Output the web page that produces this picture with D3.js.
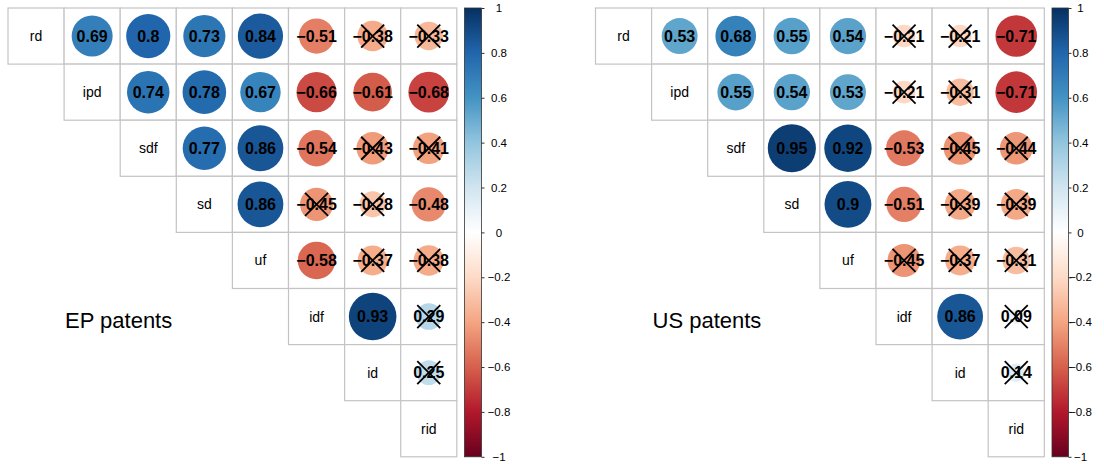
<!DOCTYPE html>
<html>
<head>
<meta charset="utf-8">
<script src="https://cdn.jsdelivr.net/npm/d3@7"></script>
<style>
  body { margin: 0; background: #fff; }
  svg { display: block; font-family: "Liberation Sans", Arial, sans-serif; }
</style>
</head>
<body>
<svg id="chart" width="1104" height="464"></svg>
<script>
// variables (diagonal labels)
var vars = ["rd", "ipd", "sdf", "sd", "uf", "idf", "id", "rid"];

// upper triangle, row by row (row i holds columns i+1 .. 7)
var epCorr = [
    [0.69, 0.8, 0.73, 0.84, -0.51, -0.38, -0.33],
    [0.74, 0.78, 0.67, -0.66, -0.61, -0.68],
    [0.77, 0.86, -0.54, -0.43, -0.41],
    [0.86, -0.45, -0.28, -0.48],
    [-0.58, -0.37, -0.38],
    [0.93, 0.29],
    [0.25]
];
// 1 = not significant (crossed out)
var epCross = [
    [0, 0, 0, 0, 0, 1, 1],
    [0, 0, 0, 0, 0, 0],
    [0, 0, 0, 1, 1],
    [0, 1, 1, 0],
    [0, 1, 1],
    [0, 1],
    [1]
];

var usCorr = [
    [0.53, 0.68, 0.55, 0.54, -0.21, -0.21, -0.71],
    [0.55, 0.54, 0.53, -0.21, -0.31, -0.71],
    [0.95, 0.92, -0.53, -0.45, -0.44],
    [0.9, -0.51, -0.39, -0.39],
    [-0.45, -0.37, -0.31],
    [0.86, 0.09],
    [0.14]
];
var usCross = [
    [0, 0, 0, 0, 1, 1, 0],
    [0, 0, 0, 1, 1, 0],
    [0, 0, 0, 1, 1],
    [0, 0, 1, 1],
    [1, 1, 1],
    [0, 1],
    [1]
];

var legendTicks = [1, 0.8, 0.6, 0.4, 0.2, 0, -0.2, -0.4, -0.6, -0.8, -1];
var palette = ["#67001F", "#B2182B", "#D6604D", "#F4A582", "#FDDBC7", "#FFFFFF",
               "#D1E5F0", "#92C5DE", "#4393C3", "#2166AC", "#053061"];

var svg = d3.select("#chart");

var color = d3.scaleLinear()
    .domain(d3.range(11).map(function (i) { return -1 + i * 0.2; }))
    .range(palette);

function fmt(v) {
    return (v < 0 ? "\u2212" : "") + String(Math.abs(v));
}

var cell = 56.1;

function draw_corr(opts) {
    var n = vars.length;
    var g = svg.append("g");

    var x = d3.scaleBand().domain(vars).range([opts.x0, opts.x0 + n * cell]);
    var y = d3.scaleBand().domain(vars).range([opts.y0, opts.y0 + n * cell]);
    var r = d3.scaleSqrt().domain([0, 1]).range([0, 0.44 * cell]);

    // cells of the upper triangle incl. diagonal
    var cells = [];
    vars.forEach(function (rv, i) {
        vars.forEach(function (cv, j) {
            if (j < i) return;
            cells.push({
                row: rv, col: cv, diag: i == j,
                value: i == j ? 1 : opts.corr[i][j - i - 1],
                cross: i == j ? 0 : opts.cross[i][j - i - 1]
            });
        });
    });

    g.selectAll("rect.cell")
        .data(cells)
        .enter()
        .append("rect")
        .attr("class", "cell")
        .attr("x", function (d) { return x(d.col); })
        .attr("y", function (d) { return y(d.row); })
        .attr("width", x.bandwidth())
        .attr("height", y.bandwidth())
        .style("fill", "white")
        .style("stroke", "#c4c4c4")
        .style("stroke-width", 1.2);

    var off = cells.filter(function (d) { return !d.diag; });

    g.selectAll("circle")
        .data(off)
        .enter()
        .append("circle")
        .attr("cx", function (d) { return x(d.col) + cell / 2; })
        .attr("cy", function (d) { return y(d.row) + cell / 2; })
        .attr("r", function (d) { return r(Math.abs(d.value)); })
        .style("fill", function (d) { return color(d.value); });

    g.selectAll("text.num")
        .data(off)
        .enter()
        .append("text")
        .attr("class", "num")
        .attr("x", function (d) { return x(d.col) + cell / 2; })
        .attr("y", function (d) { return y(d.row) + cell / 2; })
        .attr("dy", "0.36em")
        .attr("text-anchor", "middle")
        .style("font-size", "16px")
        .style("font-weight", "bold")
        .style("fill", "#000")
        .text(function (d) { return fmt(d.value); });

    g.selectAll("text.lab")
        .data(cells.filter(function (d) { return d.diag; }))
        .enter()
        .append("text")
        .attr("class", "lab")
        .attr("x", function (d) { return x(d.col) + cell / 2; })
        .attr("y", function (d) { return y(d.row) + cell / 2; })
        .attr("dy", "0.36em")
        .attr("text-anchor", "middle")
        .style("font-size", "14px")
        .style("fill", "#000")
        .text(function (d) { return d.row; });

    // crosses for non-significant pairs
    var h = 11.5;
    var crossed = off.filter(function (d) { return d.cross; });
    [[-1, -1, 1, 1], [-1, 1, 1, -1]].forEach(function (s) {
        g.selectAll(null)
            .data(crossed)
            .enter()
            .append("line")
            .attr("x1", function (d) { return x(d.col) + cell / 2 + s[0] * h; })
            .attr("y1", function (d) { return y(d.row) + cell / 2 + s[1] * h; })
            .attr("x2", function (d) { return x(d.col) + cell / 2 + s[2] * h; })
            .attr("y2", function (d) { return y(d.row) + cell / 2 + s[3] * h; })
            .style("stroke", "#000")
            .style("stroke-width", 1.8);
    });

    // title
    g.append("text")
        .attr("x", opts.titleX)
        .attr("y", 328)
        .style("font-size", "22px")
        .style("fill", "#000")
        .text(opts.title);

    // colour legend
    var ly = d3.scaleLinear().domain([-1, 1]).range([opts.y0 + n * cell, opts.y0]);
    var gradId = "grad" + opts.id;
    var grad = svg.append("defs").append("linearGradient")
        .attr("id", gradId)
        .attr("x1", 0).attr("y1", 1).attr("x2", 0).attr("y2", 0);
    grad.selectAll("stop")
        .data(d3.range(0, 1.0001, 0.05))
        .enter()
        .append("stop")
        .attr("offset", function (t) { return t; })
        .attr("stop-color", function (t) { return color(-1 + 2 * t); });

    g.append("rect")
        .attr("x", opts.barX)
        .attr("y", ly(1))
        .attr("width", opts.barW)
        .attr("height", ly(-1) - ly(1))
        .style("fill", "url(#" + gradId + ")")
        .style("stroke", "#333")
        .style("stroke-width", 0.8);

    var axis = g.append("g")
        .attr("transform", "translate(" + (opts.barX + opts.barW) + ",0)")
        .call(d3.axisRight(ly).tickValues(legendTicks).tickSize(3).tickFormat(fmt));
    axis.select(".domain").remove();
    axis.selectAll(".tick line").style("stroke", "#333");
    axis.selectAll(".tick text")
        .attr("x", opts.labOff)
        .attr("text-anchor", "middle")
        .style("font-size", "11.5px")
        .style("font-family", "Liberation Sans, Arial, sans-serif")
        .style("fill", "#000");
}

draw_corr({ id: "ep", corr: epCorr, cross: epCross, x0: 8, y0: 8,
            barX: 464.5, barW: 17, labOff: 17.5, title: "EP patents", titleX: 65 });
draw_corr({ id: "us", corr: usCorr, cross: usCross, x0: 595.5, y0: 8,
            barX: 1052, barW: 16.5, labOff: 12, title: "US patents", titleX: 652.5 });
</script>
</body>
</html>
